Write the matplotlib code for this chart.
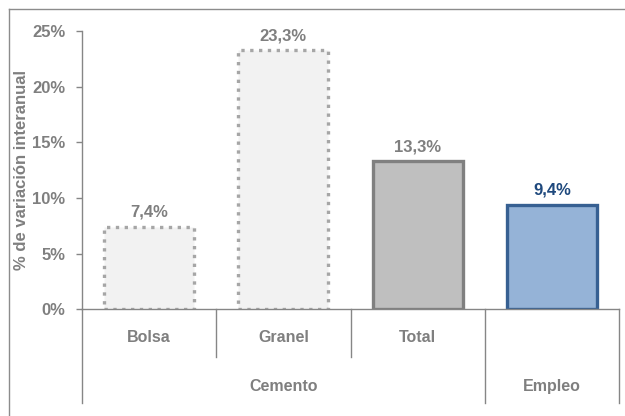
import matplotlib
matplotlib.use("Agg")
import matplotlib.pyplot as plt
from matplotlib.lines import Line2D

plt.rcParams['font.family'] = ['Liberation Sans', 'DejaVu Sans']
plt.rcParams['font.weight'] = 'bold'

# datos
categorias = ['Bolsa', 'Granel', 'Total', '']
grupos = ['Cemento', 'Empleo']
valores = [7.4, 23.3, 13.3, 9.4]
etiquetas = ['7,4%', '23,3%', '13,3%', '9,4%']
yticks = [0, 5, 10, 15, 20, 25]

gris = '#7F7F7F'
rellenos = ['#F2F2F2', '#F2F2F2', '#BFBFBF', '#95B3D7']
bordes = ['#A6A6A6', '#A6A6A6', '#808080', '#376092']
estilos = [':', ':', '-', '-']
col_txt = [gris, gris, gris, '#1F497D']

fig = plt.figure(figsize=(6.25, 4.16), dpi=100)
ax = fig.add_axes([0.1312, 0.257, 0.8592, 0.668])

x = list(range(len(valores)))
for i in x:
    ax.bar(i, valores[i], width=0.67, color=rellenos[i], edgecolor=bordes[i],
           linewidth=2.4, linestyle=estilos[i], zorder=2)
    ax.annotate(etiquetas[i], (i, valores[i]), xytext=(0, 5), textcoords='offset points',
                ha='center', va='bottom', fontsize=12, fontweight='bold', color=col_txt[i])

ax.set_xlim(-0.5, 3.5)
ax.set_ylim(0, 25)
ax.set_yticks(yticks)
ax.set_yticklabels([f'{t}%' for t in yticks], fontsize=12, fontweight='bold', color=gris)
ax.set_xticks([])
ax.tick_params(axis='y', length=4, width=1, color='#868686', pad=8)
for s in ['top', 'right']:
    ax.spines[s].set_visible(False)
for s in ['left', 'bottom']:
    ax.spines[s].set_color('#868686')
    ax.spines[s].set_linewidth(1)
ax.set_ylabel('% de variación interanual', fontsize=12, fontweight='bold', color=gris)
ax.yaxis.set_label_coords(-0.098, 0.5)

# eje de categorías en dos niveles
trans = ax.get_xaxis_transform()
for xs, y0 in [(-0.5, -0.338), (0.5, -0.173), (1.5, -0.173), (2.5, -0.338), (3.5, -0.338)]:
    ax.plot([xs, xs], [0, y0], transform=trans, color='#868686', lw=1, clip_on=False)
for i in x:
    ax.text(i, -0.104, categorias[i], transform=trans, ha='center', va='center',
            fontsize=11.5, fontweight='bold', color=gris)
ax.text(1.0, -0.277, grupos[0], transform=trans, ha='center', va='center',
        fontsize=11.5, fontweight='bold', color=gris)
ax.text(3.0, -0.277, grupos[1], transform=trans, ha='center', va='center',
        fontsize=11.5, fontweight='bold', color=gris)

# marco exterior
fig.add_artist(Line2D([9/625, 1], [1 - 9/416, 1 - 9/416], color='#8C8C8C', lw=1))
fig.add_artist(Line2D([9/625, 9/625], [0, 1 - 9/416], color='#8C8C8C', lw=1))

fig.savefig('out.png', dpi=100)
